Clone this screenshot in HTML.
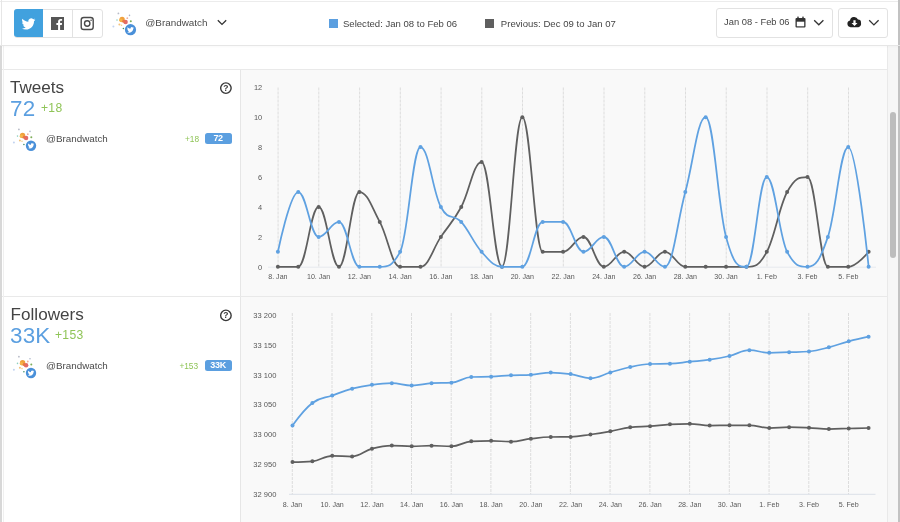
<!DOCTYPE html>
<html lang="en">
<head>
<meta charset="utf-8">
<title>Brandwatch Analytics</title>
<style>
*{box-sizing:border-box;margin:0;padding:0}
html,body{width:900px;height:522px;overflow:hidden;background:#fff;font-family:"Liberation Sans",Arial,sans-serif;color:#444}
.abs{position:absolute}
#root{position:relative;width:900px;height:522px;overflow:hidden;background:#fff}
.topline{left:0;top:1px;width:900px;height:1px;background:#ececec}
.leftline{left:1px;top:0;width:1px;height:46px;background:#e6e6e6}
.leftgutter{left:0;top:46px;width:1.5px;height:476px;background:#d8d8d8}
.rightedge{left:898px;top:0;width:2px;height:522px;background:#c2c2c2}
.hdrline{left:0;top:45px;width:900px;height:1px;background:#e6e6e6;box-shadow:0 1px 2px rgba(0,0,0,0.04)}
.btngroup{left:13.8px;top:8.7px;width:89.2px;height:29px;border:1px solid #e2e2e2;border-radius:3px;background:#fff}
.btn-tw{left:13.8px;top:8.7px;width:29.2px;height:28.8px;background:#41a1de;border-radius:3px 0 0 3px}
.sep{top:9px;width:1px;height:28px;background:#e2e2e2}
.txt{white-space:nowrap;line-height:1}
.acct{left:145.3px;top:17.9px;font-size:9.9px;color:#4a4a4a}
.leg{top:18.8px;font-size:9.55px;color:#454545}
.sq{top:18.6px;width:9.3px;height:9.1px}
.box{border:1px solid #e2e2e2;border-radius:3px;background:#fff;top:7.5px;height:30px}
.date{left:724.1px;top:18.3px;font-size:9.35px;color:#454545}
.chartbg{background:#f9f9f9}
.panel-line{height:1px;background:#e9e9e9}
.title{font-size:17.1px;color:#444;left:10px}
.big{font-size:22.4px;letter-spacing:0.2px;color:#5b9fe0;left:10px}
.delta{font-size:12.1px;color:#8fc457;letter-spacing:0.3px}
.row-name{font-size:9.82px;color:#4a4a4a;left:46px}
.row-delta{font-size:8.3px;color:#8fc457}
.badge{background:#5b9fe0;color:#fff;font-size:9px;letter-spacing:-0.35px;font-weight:bold;border-radius:2.5px;width:27px;height:10.9px;left:204.6px;text-align:center;line-height:11.2px}
svg.charts{position:absolute;left:0;top:0}
svg .grid{stroke:#dddddd;stroke-width:1;stroke-dasharray:3 1}
svg .axis{stroke:#dfe4ee;stroke-width:1}
svg text{font-family:"Liberation Sans",Arial,sans-serif}
svg .xl{font-size:7.1px;fill:#585858;text-anchor:middle}
svg .yl{font-size:7.4px;fill:#585858;text-anchor:end}
</style>
</head>
<body>
<div id="root">
  <!-- chart backgrounds -->
  <div class="abs chartbg" style="left:241px;top:70px;width:646px;height:452px"></div>
  <div class="abs" style="left:240px;top:70px;width:1px;height:452px;background:#e6e6e6"></div>
  <div class="abs panel-line" style="left:2px;top:69px;width:885px"></div>
  <div class="abs panel-line" style="left:2px;top:296px;width:885px"></div>
  <!-- scrollbar -->
  <div class="abs" style="left:887px;top:46px;width:13px;height:476px;background:#f6f6f6;border-left:1px solid #e9e9e9"></div>
  <div class="abs" style="left:890px;top:112px;width:6.2px;height:145.5px;border-radius:3.2px;background:#bdbdbd"></div>

  <!-- header -->
  <div class="abs topline"></div>
  <div class="abs leftline"></div>
  <div class="abs leftgutter"></div>
  <div class="abs rightedge"></div>
  <div class="abs" style="left:3px;top:46px;width:1px;height:476px;background:#f0f0f0"></div>
  <div class="abs hdrline"></div>
  <div class="abs box" style="left:716px;width:117px"></div>
  <div class="abs box" style="left:838px;width:50px"></div>
  <div class="abs btngroup"></div>
  <div class="abs btn-tw"></div>
  <div class="abs sep" style="left:72px"></div>
  <svg class="abs" style="left:0;top:0" width="900" height="46" viewBox="0 0 900 46">
    <!-- twitter bird -->
    <g transform="translate(21.5,17) scale(0.58)">
      <path fill="#fff" d="M23.95 4.57a10 10 0 0 1-2.82.77 4.96 4.96 0 0 0 2.16-2.72c-.95.55-2 .96-3.13 1.18a4.92 4.92 0 0 0-8.38 4.48C7.69 8.1 4.07 6.13 1.64 3.16a4.82 4.82 0 0 0-.67 2.48c0 1.71.87 3.21 2.19 4.1a4.9 4.9 0 0 1-2.23-.62v.06a4.92 4.92 0 0 0 3.95 4.83 4.98 4.98 0 0 1-2.21.08 4.94 4.94 0 0 0 4.6 3.42A9.87 9.87 0 0 1 0 19.54a13.94 13.94 0 0 0 7.55 2.21c9.05 0 14-7.5 14-13.98 0-.21 0-.42-.02-.63a9.94 9.94 0 0 0 2.46-2.55z"/>
    </g>
    <!-- facebook -->
    <g>
      <rect x="51" y="17" width="13" height="13" fill="#555"/>
      <path fill="#fff" d="M60.1 30v-5h1.7l.25-1.95H60.1V21.8c0-.56.16-.95.97-.95h1.03v-1.74a13.8 13.8 0 0 0-1.5-.08c-1.5 0-2.52.91-2.52 2.59v1.43h-1.7V25h1.7v5z"/>
    </g>
    <!-- instagram -->
    <g fill="none" stroke="#4a4a4a" stroke-width="1.4">
      <rect x="81.2" y="17.5" width="12" height="12" rx="2.6"/>
      <circle cx="87.2" cy="23.5" r="2.7"/>
    </g>
    <circle cx="91.1" cy="20.3" r="0.8" fill="#4a4a4a"/>
    <!-- chevrons -->
    <path d="M217.8 20.2 L222 24.4 L226.2 20.2" fill="none" stroke="#333" stroke-width="1.3"/>
    <path d="M814.2 20.2 L818.8 24.800 L823.4 20.2" fill="none" stroke="#333" stroke-width="1.3"/>
    <path d="M869.2 20.2 L873.9 24.900 L878.6 20.2" fill="none" stroke="#333" stroke-width="1.3"/>
    <!-- calendar -->
    <g>
      <rect x="795.5" y="18" width="10" height="9.5" rx="1" fill="#333"/>
      <rect x="796.8" y="21.7" width="7.4" height="4.600" fill="#fff"/>
      <rect x="797.3" y="16.6" width="1.4" height="2.6" fill="#333"/>
      <rect x="802.3" y="16.6" width="1.4" height="2.6" fill="#333"/>
    </g>
    <!-- cloud download -->
    <g>
      <path fill="#222" d="M850.6 27.2a3.4 3.4 0 0 1-.6-6.7 4.2 4.2 0 0 1 8-1 3.1 3.1 0 0 1 3 3.2 3.9 3.9 0 0 1-2.6 4.5z"/>
      <path fill="#fff" d="M853.4 20.2h2.2v2.8h1.9l-3 3.1-3-3.100h1.900z"/>
    </g>
  </svg>
  <div class="abs txt acct">@Brandwatch</div>
  <div class="abs sq" style="left:328.5px;background:#5b9fe0"></div>
  <div class="abs txt leg" style="left:343px">Selected: Jan 08 to Feb 06</div>
  <div class="abs sq" style="left:485.2px;background:#5f5f5f"></div>
  <div class="abs txt leg" style="left:500.8px;letter-spacing:0.02px">Previous: Dec 09 to Jan 07</div>
  <div class="abs txt date">Jan 08 - Feb 06</div>

  <!-- avatar header -->
  <svg class="charts" width="900" height="522" viewBox="0 0 900 522"><g transform="translate(0.00,0.00)"><circle cx="122.1" cy="19.5" r="2.69" fill="#f0a03c"/><circle cx="120.9" cy="20.3" r="1.68" fill="#f5b54a"/><circle cx="125.6" cy="21.9" r="2.24" fill="#e26a6a"/><circle cx="123.8" cy="21.3" r="1.57" fill="#e8734a"/><circle cx="130.8" cy="21.3" r="1.01" fill="#7fae5a"/><circle cx="123.4" cy="28.5" r="0.78" fill="#3f8f6a"/><circle cx="118.4" cy="13.4" r="0.90" fill="#b8bcc8"/><circle cx="129.5" cy="15.4" r="0.78" fill="#a9b4c9"/><circle cx="113.4" cy="26.5" r="1.01" fill="#c3d4f0"/><circle cx="117.0" cy="20.1" r="0.78" fill="#8fd0c0"/><circle cx="119.4" cy="24.5" r="1.01" fill="#f4c27a"/><circle cx="127.3" cy="18.2" r="0.90" fill="#f2b0a0"/><circle cx="121.5" cy="25.3" r="0.78" fill="#f6d28a"/><circle cx="130.5" cy="29.7" r="5.6" fill="#4a90d9"/><path transform="translate(127.03,26.37) scale(0.289)" fill="#fff" d="M23.95 4.57a10 10 0 0 1-2.82.77 4.96 4.96 0 0 0 2.16-2.72c-.95.55-2 .96-3.13 1.18a4.92 4.92 0 0 0-8.38 4.48C7.69 8.1 4.07 6.13 1.64 3.16a4.82 4.82 0 0 0-.67 2.48c0 1.71.87 3.21 2.19 4.1a4.9 4.9 0 0 1-2.23-.62v.06a4.92 4.92 0 0 0 3.95 4.83 4.98 4.98 0 0 1-2.21.08 4.94 4.94 0 0 0 4.6 3.42A9.87 9.87 0 0 1 0 19.54a13.94 13.94 0 0 0 7.55 2.21c9.05 0 14-7.500 14-13.98 0-.21 0-.42-.02-.63a9.94 9.94 0 0 0 2.46-2.55z"/></g><g transform="translate(-99.50,116.00)"><circle cx="122.1" cy="19.5" r="2.69" fill="#f0a03c"/><circle cx="120.9" cy="20.3" r="1.68" fill="#f5b54a"/><circle cx="125.6" cy="21.9" r="2.24" fill="#e26a6a"/><circle cx="123.8" cy="21.3" r="1.57" fill="#e8734a"/><circle cx="130.8" cy="21.3" r="1.01" fill="#7fae5a"/><circle cx="123.4" cy="28.5" r="0.78" fill="#3f8f6a"/><circle cx="118.4" cy="13.4" r="0.90" fill="#b8bcc8"/><circle cx="129.5" cy="15.4" r="0.78" fill="#a9b4c9"/><circle cx="113.4" cy="26.5" r="1.01" fill="#c3d4f0"/><circle cx="117.0" cy="20.1" r="0.78" fill="#8fd0c0"/><circle cx="119.4" cy="24.5" r="1.01" fill="#f4c27a"/><circle cx="127.3" cy="18.2" r="0.90" fill="#f2b0a0"/><circle cx="121.5" cy="25.3" r="0.78" fill="#f6d28a"/><circle cx="130.5" cy="29.7" r="5.2" fill="#4a90d9"/><path transform="translate(127.28,26.61) scale(0.269)" fill="#fff" d="M23.95 4.57a10 10 0 0 1-2.82.77 4.96 4.96 0 0 0 2.16-2.72c-.95.55-2 .96-3.13 1.18a4.92 4.92 0 0 0-8.38 4.48C7.69 8.1 4.07 6.13 1.64 3.16a4.82 4.82 0 0 0-.67 2.48c0 1.71.87 3.21 2.19 4.1a4.9 4.9 0 0 1-2.23-.62v.06a4.92 4.92 0 0 0 3.95 4.83 4.98 4.98 0 0 1-2.21.08 4.94 4.94 0 0 0 4.6 3.42A9.87 9.87 0 0 1 0 19.54a13.94 13.94 0 0 0 7.55 2.21c9.05 0 14-7.500 14-13.98 0-.21 0-.42-.02-.63a9.94 9.94 0 0 0 2.46-2.55z"/></g><g transform="translate(-99.50,343.30)"><circle cx="122.1" cy="19.5" r="2.69" fill="#f0a03c"/><circle cx="120.9" cy="20.3" r="1.68" fill="#f5b54a"/><circle cx="125.6" cy="21.9" r="2.24" fill="#e26a6a"/><circle cx="123.8" cy="21.3" r="1.57" fill="#e8734a"/><circle cx="130.8" cy="21.3" r="1.01" fill="#7fae5a"/><circle cx="123.4" cy="28.5" r="0.78" fill="#3f8f6a"/><circle cx="118.4" cy="13.4" r="0.90" fill="#b8bcc8"/><circle cx="129.5" cy="15.4" r="0.78" fill="#a9b4c9"/><circle cx="113.4" cy="26.5" r="1.01" fill="#c3d4f0"/><circle cx="117.0" cy="20.1" r="0.78" fill="#8fd0c0"/><circle cx="119.4" cy="24.5" r="1.01" fill="#f4c27a"/><circle cx="127.3" cy="18.2" r="0.90" fill="#f2b0a0"/><circle cx="121.5" cy="25.3" r="0.78" fill="#f6d28a"/><circle cx="130.5" cy="29.7" r="5.2" fill="#4a90d9"/><path transform="translate(127.28,26.61) scale(0.269)" fill="#fff" d="M23.95 4.57a10 10 0 0 1-2.82.77 4.96 4.96 0 0 0 2.16-2.72c-.95.55-2 .96-3.13 1.18a4.92 4.92 0 0 0-8.38 4.48C7.69 8.1 4.07 6.13 1.64 3.16a4.82 4.82 0 0 0-.67 2.48c0 1.71.87 3.21 2.19 4.1a4.9 4.9 0 0 1-2.23-.62v.06a4.92 4.92 0 0 0 3.95 4.83 4.98 4.98 0 0 1-2.21.08 4.94 4.94 0 0 0 4.6 3.42A9.87 9.87 0 0 1 0 19.54a13.94 13.94 0 0 0 7.55 2.21c9.05 0 14-7.500 14-13.98 0-.21 0-.42-.02-.63a9.94 9.94 0 0 0 2.46-2.55z"/></g><circle cx="225.9" cy="88.1" r="5.25" fill="none" stroke="#383838" stroke-width="1.4"/><text x="225.9" y="91.1" font-size="8.5" font-weight="bold" fill="#3a3a3a" text-anchor="middle">?</text><circle cx="225.9" cy="315.4" r="5.25" fill="none" stroke="#383838" stroke-width="1.4"/><text x="225.9" y="318.4" font-size="8.5" font-weight="bold" fill="#3a3a3a" text-anchor="middle">?</text></svg>

  <!-- Tweets panel -->
  <div class="abs txt title" style="top:78.8px">Tweets</div>
  <div class="abs txt big" style="top:98px">72</div>
  <div class="abs txt delta" style="left:41px;top:102.2px">+18</div>
  <div class="abs txt row-name" style="top:133.8px">@Brandwatch</div>
  <div class="abs txt row-delta" style="left:185px;top:135.300px">+18</div>
  <div class="abs txt badge" style="top:133.2px">72</div>

  <!-- Followers panel -->
  <div class="abs txt title" style="top:305.8px;left:10.6px">Followers</div>
  <div class="abs txt big" style="top:325px">33K</div>
  <div class="abs txt delta" style="left:55px;top:329.4px">+153</div>
  <div class="abs txt row-name" style="top:361px">@Brandwatch</div>
  <div class="abs txt row-delta" style="left:179.4px;top:362.300px">+153</div>
  <div class="abs txt badge" style="top:360.4px">33K</div>

<svg class="charts" width="900" height="522" viewBox="0 0 900 522">
<line x1="278.1" y1="87.5" x2="278.1" y2="267" class="grid"/><text x="277.9" y="279" class="xl">8. Jan</text><line x1="318.8" y1="87.5" x2="318.8" y2="267" class="grid"/><text x="318.6" y="279" class="xl">10. Jan</text><line x1="359.6" y1="87.5" x2="359.6" y2="267" class="grid"/><text x="359.4" y="279" class="xl">12. Jan</text><line x1="400.3" y1="87.5" x2="400.3" y2="267" class="grid"/><text x="400.1" y="279" class="xl">14. Jan</text><line x1="441.1" y1="87.5" x2="441.1" y2="267" class="grid"/><text x="440.9" y="279" class="xl">16. Jan</text><line x1="481.8" y1="87.5" x2="481.8" y2="267" class="grid"/><text x="481.6" y="279" class="xl">18. Jan</text><line x1="522.5" y1="87.5" x2="522.5" y2="267" class="grid"/><text x="522.3" y="279" class="xl">20. Jan</text><line x1="563.3" y1="87.5" x2="563.3" y2="267" class="grid"/><text x="563.1" y="279" class="xl">22. Jan</text><line x1="604.0" y1="87.5" x2="604.0" y2="267" class="grid"/><text x="603.8" y="279" class="xl">24. Jan</text><line x1="644.8" y1="87.5" x2="644.8" y2="267" class="grid"/><text x="644.6" y="279" class="xl">26. Jan</text><line x1="685.5" y1="87.5" x2="685.5" y2="267" class="grid"/><text x="685.3" y="279" class="xl">28. Jan</text><line x1="726.2" y1="87.5" x2="726.2" y2="267" class="grid"/><text x="726.0" y="279" class="xl">30. Jan</text><line x1="767.0" y1="87.5" x2="767.0" y2="267" class="grid"/><text x="766.8" y="279" class="xl">1. Feb</text><line x1="807.7" y1="87.5" x2="807.7" y2="267" class="grid"/><text x="807.5" y="279" class="xl">3. Feb</text><line x1="848.5" y1="87.5" x2="848.5" y2="267" class="grid"/><text x="848.3" y="279" class="xl">5. Feb</text><text x="262.2" y="90.4" class="yl">12</text><text x="262.2" y="120.3" class="yl">10</text><text x="262.2" y="150.2" class="yl">8</text><text x="262.2" y="180.1" class="yl">6</text><text x="262.2" y="210.1" class="yl">4</text><text x="262.2" y="240.0" class="yl">2</text><text x="262.2" y="269.9" class="yl">0</text><line x1="268" y1="267.2" x2="876" y2="267.2" class="axis" style="stroke:#e6e9ee"/>
<path d="M 277.90 266.80 C 277.90 266.80 290.12 266.80 298.27 266.80 C 306.42 266.80 310.49 206.96 318.64 206.96 C 326.79 206.96 330.86 266.80 339.01 266.80 C 347.16 266.80 351.23 192.00 359.38 192.00 C 367.53 192.00 371.60 206.96 379.75 221.92 C 387.90 236.88 391.97 266.80 400.12 266.80 C 408.27 266.80 412.34 266.80 420.49 266.80 C 428.64 266.80 432.71 248.85 440.86 236.88 C 449.01 224.91 453.08 221.92 461.23 206.96 C 469.38 192.00 473.45 162.08 481.60 162.08 C 489.75 162.08 493.82 266.80 501.97 266.80 C 510.12 266.80 514.19 117.20 522.34 117.20 C 530.49 117.20 534.56 251.84 542.71 251.84 C 550.86 251.84 554.93 251.84 563.08 251.84 C 571.23 251.84 575.30 236.88 583.45 236.88 C 591.60 236.88 595.67 266.80 603.82 266.80 C 611.97 266.80 616.04 251.84 624.19 251.84 C 632.34 251.84 636.41 266.80 644.56 266.80 C 652.71 266.80 656.78 251.84 664.93 251.84 C 673.08 251.84 677.15 266.80 685.30 266.80 C 693.45 266.80 697.52 266.80 705.67 266.80 C 713.82 266.80 717.89 266.80 726.04 266.80 C 734.19 266.80 738.26 266.80 746.41 266.80 C 754.56 266.80 758.63 266.80 766.78 251.84 C 774.93 236.88 779.00 206.96 787.15 192.00 C 795.30 177.04 799.37 177.04 807.52 177.04 C 815.67 177.04 819.74 266.80 827.89 266.80 C 836.04 266.80 840.11 266.80 848.26 266.80 C 856.41 266.80 868.63 251.84 868.63 251.84" fill="none" stroke="#5f5f5f" stroke-width="1.75" stroke-linejoin="round" stroke-linecap="round"/><circle cx="277.90" cy="266.80" r="2.0" fill="#5f5f5f"/><circle cx="298.27" cy="266.80" r="2.0" fill="#5f5f5f"/><circle cx="318.64" cy="206.96" r="2.0" fill="#5f5f5f"/><circle cx="339.01" cy="266.80" r="2.0" fill="#5f5f5f"/><circle cx="359.38" cy="192.00" r="2.0" fill="#5f5f5f"/><circle cx="379.75" cy="221.92" r="2.0" fill="#5f5f5f"/><circle cx="400.12" cy="266.80" r="2.0" fill="#5f5f5f"/><circle cx="420.49" cy="266.80" r="2.0" fill="#5f5f5f"/><circle cx="440.86" cy="236.88" r="2.0" fill="#5f5f5f"/><circle cx="461.23" cy="206.96" r="2.0" fill="#5f5f5f"/><circle cx="481.60" cy="162.08" r="2.0" fill="#5f5f5f"/><circle cx="501.97" cy="266.80" r="2.0" fill="#5f5f5f"/><circle cx="522.34" cy="117.20" r="2.0" fill="#5f5f5f"/><circle cx="542.71" cy="251.84" r="2.0" fill="#5f5f5f"/><circle cx="563.08" cy="251.84" r="2.0" fill="#5f5f5f"/><circle cx="583.45" cy="236.88" r="2.0" fill="#5f5f5f"/><circle cx="603.82" cy="266.80" r="2.0" fill="#5f5f5f"/><circle cx="624.19" cy="251.84" r="2.0" fill="#5f5f5f"/><circle cx="644.56" cy="266.80" r="2.0" fill="#5f5f5f"/><circle cx="664.93" cy="251.84" r="2.0" fill="#5f5f5f"/><circle cx="685.30" cy="266.80" r="2.0" fill="#5f5f5f"/><circle cx="705.67" cy="266.80" r="2.0" fill="#5f5f5f"/><circle cx="726.04" cy="266.80" r="2.0" fill="#5f5f5f"/><circle cx="746.41" cy="266.80" r="2.0" fill="#5f5f5f"/><circle cx="766.78" cy="251.84" r="2.0" fill="#5f5f5f"/><circle cx="787.15" cy="192.00" r="2.0" fill="#5f5f5f"/><circle cx="807.52" cy="177.04" r="2.0" fill="#5f5f5f"/><circle cx="827.89" cy="266.80" r="2.0" fill="#5f5f5f"/><circle cx="848.26" cy="266.80" r="2.0" fill="#5f5f5f"/><circle cx="868.63" cy="251.84" r="2.0" fill="#5f5f5f"/>
<path d="M 277.90 251.84 C 277.90 251.84 290.12 192.00 298.27 192.00 C 306.42 192.00 310.49 236.88 318.64 236.88 C 326.79 236.88 330.86 221.92 339.01 221.92 C 347.16 221.92 351.23 266.80 359.38 266.80 C 367.53 266.80 371.60 266.80 379.75 266.80 C 387.90 266.80 391.97 266.80 400.12 251.84 C 408.27 236.88 412.34 147.12 420.49 147.12 C 428.64 147.12 432.71 192.00 440.86 206.96 C 449.01 221.92 453.08 212.94 461.23 221.92 C 469.38 230.90 473.45 242.86 481.60 251.84 C 489.75 260.82 493.82 266.80 501.97 266.80 C 510.12 266.80 514.19 266.80 522.34 266.80 C 530.49 266.80 534.56 221.92 542.71 221.92 C 550.86 221.92 554.93 221.92 563.08 221.92 C 571.23 221.92 575.30 251.84 583.45 251.84 C 591.60 251.84 595.67 236.88 603.82 236.88 C 611.97 236.88 616.04 266.80 624.19 266.80 C 632.34 266.80 636.41 251.84 644.56 251.84 C 652.71 251.84 656.78 266.80 664.93 266.80 C 673.08 266.80 677.15 221.92 685.30 192.00 C 693.45 162.08 697.52 117.20 705.67 117.20 C 713.82 117.20 717.89 206.96 726.04 236.88 C 734.19 266.80 738.26 266.80 746.41 266.80 C 754.56 266.80 758.63 177.04 766.78 177.04 C 774.93 177.04 779.00 236.88 787.15 251.84 C 795.30 266.80 799.37 266.80 807.52 266.80 C 815.67 266.80 819.74 260.82 827.89 236.88 C 836.04 212.94 840.11 147.12 848.26 147.12 C 856.41 147.12 868.63 266.80 868.63 266.80" fill="none" stroke="#5fa1e1" stroke-width="1.75" stroke-linejoin="round" stroke-linecap="round"/><circle cx="277.90" cy="251.84" r="2.0" fill="#5fa1e1"/><circle cx="298.27" cy="192.00" r="2.0" fill="#5fa1e1"/><circle cx="318.64" cy="236.88" r="2.0" fill="#5fa1e1"/><circle cx="339.01" cy="221.92" r="2.0" fill="#5fa1e1"/><circle cx="359.38" cy="266.80" r="2.0" fill="#5fa1e1"/><circle cx="379.75" cy="266.80" r="2.0" fill="#5fa1e1"/><circle cx="400.12" cy="251.84" r="2.0" fill="#5fa1e1"/><circle cx="420.49" cy="147.12" r="2.0" fill="#5fa1e1"/><circle cx="440.86" cy="206.96" r="2.0" fill="#5fa1e1"/><circle cx="461.23" cy="221.92" r="2.0" fill="#5fa1e1"/><circle cx="481.60" cy="251.84" r="2.0" fill="#5fa1e1"/><circle cx="501.97" cy="266.80" r="2.0" fill="#5fa1e1"/><circle cx="522.34" cy="266.80" r="2.0" fill="#5fa1e1"/><circle cx="542.71" cy="221.92" r="2.0" fill="#5fa1e1"/><circle cx="563.08" cy="221.92" r="2.0" fill="#5fa1e1"/><circle cx="583.45" cy="251.84" r="2.0" fill="#5fa1e1"/><circle cx="603.82" cy="236.88" r="2.0" fill="#5fa1e1"/><circle cx="624.19" cy="266.80" r="2.0" fill="#5fa1e1"/><circle cx="644.56" cy="251.84" r="2.0" fill="#5fa1e1"/><circle cx="664.93" cy="266.80" r="2.0" fill="#5fa1e1"/><circle cx="685.30" cy="192.00" r="2.0" fill="#5fa1e1"/><circle cx="705.67" cy="117.20" r="2.0" fill="#5fa1e1"/><circle cx="726.04" cy="236.88" r="2.0" fill="#5fa1e1"/><circle cx="746.41" cy="266.80" r="2.0" fill="#5fa1e1"/><circle cx="766.78" cy="177.04" r="2.0" fill="#5fa1e1"/><circle cx="787.15" cy="251.84" r="2.0" fill="#5fa1e1"/><circle cx="807.52" cy="266.80" r="2.0" fill="#5fa1e1"/><circle cx="827.89" cy="236.88" r="2.0" fill="#5fa1e1"/><circle cx="848.26" cy="147.12" r="2.0" fill="#5fa1e1"/><circle cx="868.63" cy="266.80" r="2.0" fill="#5fa1e1"/>
<line x1="292.3" y1="313" x2="292.3" y2="494.5" class="grid"/><text x="292.5" y="507" class="xl">8. Jan</text><line x1="332.0" y1="313" x2="332.0" y2="494.5" class="grid"/><text x="332.2" y="507" class="xl">10. Jan</text><line x1="371.8" y1="313" x2="371.8" y2="494.5" class="grid"/><text x="372.0" y="507" class="xl">12. Jan</text><line x1="411.5" y1="313" x2="411.5" y2="494.5" class="grid"/><text x="411.7" y="507" class="xl">14. Jan</text><line x1="451.2" y1="313" x2="451.2" y2="494.5" class="grid"/><text x="451.4" y="507" class="xl">16. Jan</text><line x1="490.9" y1="313" x2="490.9" y2="494.5" class="grid"/><text x="491.1" y="507" class="xl">18. Jan</text><line x1="530.7" y1="313" x2="530.7" y2="494.5" class="grid"/><text x="530.9" y="507" class="xl">20. Jan</text><line x1="570.4" y1="313" x2="570.4" y2="494.5" class="grid"/><text x="570.6" y="507" class="xl">22. Jan</text><line x1="610.1" y1="313" x2="610.1" y2="494.5" class="grid"/><text x="610.3" y="507" class="xl">24. Jan</text><line x1="649.9" y1="313" x2="649.9" y2="494.5" class="grid"/><text x="650.1" y="507" class="xl">26. Jan</text><line x1="689.6" y1="313" x2="689.6" y2="494.5" class="grid"/><text x="689.8" y="507" class="xl">28. Jan</text><line x1="729.3" y1="313" x2="729.3" y2="494.5" class="grid"/><text x="729.5" y="507" class="xl">30. Jan</text><line x1="769.1" y1="313" x2="769.1" y2="494.5" class="grid"/><text x="769.3" y="507" class="xl">1. Feb</text><line x1="808.8" y1="313" x2="808.8" y2="494.5" class="grid"/><text x="809.0" y="507" class="xl">3. Feb</text><line x1="848.5" y1="313" x2="848.5" y2="494.5" class="grid"/><text x="848.7" y="507" class="xl">5. Feb</text><text x="276.4" y="317.7" class="yl" style="font-size:7.55px">33 200</text><text x="276.4" y="347.6" class="yl" style="font-size:7.55px">33 150</text><text x="276.4" y="377.5" class="yl" style="font-size:7.55px">33 100</text><text x="276.4" y="407.4" class="yl" style="font-size:7.55px">33 050</text><text x="276.4" y="437.2" class="yl" style="font-size:7.55px">33 000</text><text x="276.4" y="467.1" class="yl" style="font-size:7.55px">32 950</text><text x="276.4" y="497.0" class="yl" style="font-size:7.55px">32 900</text><line x1="289" y1="494.3" x2="875.500" y2="494.3" class="axis" style="stroke:#dbe0e8"/>
<path d="M 292.50 462.00 C 292.50 462.00 304.42 462.00 312.37 461.30 C 320.31 460.60 324.28 455.80 332.23 455.80 C 340.18 455.80 344.15 456.50 352.10 456.50 C 360.04 456.50 364.01 450.90 371.96 448.70 C 379.91 446.50 383.88 445.50 391.82 445.50 C 399.77 445.50 403.74 446.30 411.69 446.30 C 419.64 446.30 423.61 445.70 431.55 445.70 C 439.50 445.70 443.47 446.30 451.42 446.30 C 459.37 446.30 463.34 441.80 471.28 441.30 C 479.23 440.80 483.20 440.80 491.15 440.80 C 499.10 440.80 503.07 441.70 511.01 441.70 C 518.96 441.70 522.93 439.64 530.88 438.70 C 538.83 437.76 542.80 437.10 550.75 437.00 C 558.69 436.90 562.66 437.00 570.61 436.90 C 578.56 436.80 582.53 435.62 590.47 434.50 C 598.42 433.38 602.39 432.74 610.34 431.30 C 618.29 429.86 622.26 428.32 630.20 427.30 C 638.15 426.28 642.12 426.80 650.07 426.20 C 658.02 425.60 661.99 424.78 669.93 424.30 C 677.88 423.82 681.85 423.80 689.80 423.80 C 697.75 423.80 701.72 425.50 709.66 425.50 C 717.61 425.50 721.58 425.30 729.53 425.30 C 737.48 425.30 741.45 425.30 749.39 425.30 C 757.34 425.30 761.31 428.00 769.26 428.00 C 777.21 428.00 781.18 427.20 789.12 427.20 C 797.07 427.20 801.04 427.44 808.99 427.80 C 816.94 428.16 820.91 429.00 828.85 429.00 C 836.80 429.00 840.77 428.70 848.72 428.50 C 856.67 428.30 868.58 428.00 868.58 428.00" fill="none" stroke="#5f5f5f" stroke-width="1.75" stroke-linejoin="round" stroke-linecap="round"/><circle cx="292.50" cy="462.00" r="2.0" fill="#5f5f5f"/><circle cx="312.37" cy="461.30" r="2.0" fill="#5f5f5f"/><circle cx="332.23" cy="455.80" r="2.0" fill="#5f5f5f"/><circle cx="352.10" cy="456.50" r="2.0" fill="#5f5f5f"/><circle cx="371.96" cy="448.70" r="2.0" fill="#5f5f5f"/><circle cx="391.82" cy="445.50" r="2.0" fill="#5f5f5f"/><circle cx="411.69" cy="446.30" r="2.0" fill="#5f5f5f"/><circle cx="431.55" cy="445.70" r="2.0" fill="#5f5f5f"/><circle cx="451.42" cy="446.30" r="2.0" fill="#5f5f5f"/><circle cx="471.28" cy="441.30" r="2.0" fill="#5f5f5f"/><circle cx="491.15" cy="440.80" r="2.0" fill="#5f5f5f"/><circle cx="511.01" cy="441.70" r="2.0" fill="#5f5f5f"/><circle cx="530.88" cy="438.70" r="2.0" fill="#5f5f5f"/><circle cx="550.75" cy="437.00" r="2.0" fill="#5f5f5f"/><circle cx="570.61" cy="436.90" r="2.0" fill="#5f5f5f"/><circle cx="590.47" cy="434.50" r="2.0" fill="#5f5f5f"/><circle cx="610.34" cy="431.30" r="2.0" fill="#5f5f5f"/><circle cx="630.20" cy="427.30" r="2.0" fill="#5f5f5f"/><circle cx="650.07" cy="426.20" r="2.0" fill="#5f5f5f"/><circle cx="669.93" cy="424.30" r="2.0" fill="#5f5f5f"/><circle cx="689.80" cy="423.80" r="2.0" fill="#5f5f5f"/><circle cx="709.66" cy="425.50" r="2.0" fill="#5f5f5f"/><circle cx="729.53" cy="425.30" r="2.0" fill="#5f5f5f"/><circle cx="749.39" cy="425.30" r="2.0" fill="#5f5f5f"/><circle cx="769.26" cy="428.00" r="2.0" fill="#5f5f5f"/><circle cx="789.12" cy="427.20" r="2.0" fill="#5f5f5f"/><circle cx="808.99" cy="427.80" r="2.0" fill="#5f5f5f"/><circle cx="828.85" cy="429.00" r="2.0" fill="#5f5f5f"/><circle cx="848.72" cy="428.50" r="2.0" fill="#5f5f5f"/><circle cx="868.58" cy="428.00" r="2.0" fill="#5f5f5f"/>
<path d="M 292.50 425.50 C 292.50 425.50 304.42 409.00 312.37 403.00 C 320.31 397.00 324.28 398.36 332.23 395.50 C 340.18 392.64 344.15 390.84 352.10 388.70 C 360.04 386.56 364.01 385.90 371.96 384.80 C 379.91 383.70 383.88 383.20 391.82 383.20 C 399.77 383.20 403.74 385.50 411.69 385.50 C 419.64 385.50 423.61 383.70 431.55 383.20 C 439.50 382.70 443.47 383.20 451.42 382.70 C 459.37 382.20 463.34 377.30 471.28 377.00 C 479.23 376.70 483.20 377.00 491.15 376.70 C 499.10 376.40 503.07 375.68 511.01 375.30 C 518.96 374.92 522.93 375.30 530.88 374.80 C 538.83 374.30 542.80 372.50 550.75 372.50 C 558.69 372.50 562.66 372.94 570.61 374.10 C 578.56 375.26 582.53 378.30 590.47 378.30 C 598.42 378.30 602.39 374.76 610.34 372.50 C 618.29 370.24 622.26 368.70 630.20 367.00 C 638.15 365.30 642.12 364.30 650.07 364.00 C 658.02 363.70 661.99 364.00 669.93 363.70 C 677.88 363.40 681.85 362.50 689.80 361.70 C 697.75 360.90 701.72 360.84 709.66 359.70 C 717.61 358.56 721.58 357.90 729.53 356.00 C 737.48 354.10 741.45 350.20 749.39 350.20 C 757.34 350.20 761.31 352.80 769.26 352.80 C 777.21 352.80 781.18 352.46 789.12 352.20 C 797.07 351.94 801.04 352.20 808.99 351.50 C 816.94 350.80 820.91 349.34 828.85 347.30 C 836.80 345.26 840.77 343.42 848.72 341.30 C 856.67 339.18 868.58 336.70 868.58 336.70" fill="none" stroke="#5fa1e1" stroke-width="1.75" stroke-linejoin="round" stroke-linecap="round"/><circle cx="292.50" cy="425.50" r="2.0" fill="#5fa1e1"/><circle cx="312.37" cy="403.00" r="2.0" fill="#5fa1e1"/><circle cx="332.23" cy="395.50" r="2.0" fill="#5fa1e1"/><circle cx="352.10" cy="388.70" r="2.0" fill="#5fa1e1"/><circle cx="371.96" cy="384.80" r="2.0" fill="#5fa1e1"/><circle cx="391.82" cy="383.20" r="2.0" fill="#5fa1e1"/><circle cx="411.69" cy="385.50" r="2.0" fill="#5fa1e1"/><circle cx="431.55" cy="383.20" r="2.0" fill="#5fa1e1"/><circle cx="451.42" cy="382.70" r="2.0" fill="#5fa1e1"/><circle cx="471.28" cy="377.00" r="2.0" fill="#5fa1e1"/><circle cx="491.15" cy="376.70" r="2.0" fill="#5fa1e1"/><circle cx="511.01" cy="375.30" r="2.0" fill="#5fa1e1"/><circle cx="530.88" cy="374.80" r="2.0" fill="#5fa1e1"/><circle cx="550.75" cy="372.50" r="2.0" fill="#5fa1e1"/><circle cx="570.61" cy="374.10" r="2.0" fill="#5fa1e1"/><circle cx="590.47" cy="378.30" r="2.0" fill="#5fa1e1"/><circle cx="610.34" cy="372.50" r="2.0" fill="#5fa1e1"/><circle cx="630.20" cy="367.00" r="2.0" fill="#5fa1e1"/><circle cx="650.07" cy="364.00" r="2.0" fill="#5fa1e1"/><circle cx="669.93" cy="363.70" r="2.0" fill="#5fa1e1"/><circle cx="689.80" cy="361.70" r="2.0" fill="#5fa1e1"/><circle cx="709.66" cy="359.70" r="2.0" fill="#5fa1e1"/><circle cx="729.53" cy="356.00" r="2.0" fill="#5fa1e1"/><circle cx="749.39" cy="350.20" r="2.0" fill="#5fa1e1"/><circle cx="769.26" cy="352.80" r="2.0" fill="#5fa1e1"/><circle cx="789.12" cy="352.20" r="2.0" fill="#5fa1e1"/><circle cx="808.99" cy="351.50" r="2.0" fill="#5fa1e1"/><circle cx="828.85" cy="347.30" r="2.0" fill="#5fa1e1"/><circle cx="848.72" cy="341.30" r="2.0" fill="#5fa1e1"/><circle cx="868.58" cy="336.70" r="2.0" fill="#5fa1e1"/>
</svg>
</div>
</body>
</html>
